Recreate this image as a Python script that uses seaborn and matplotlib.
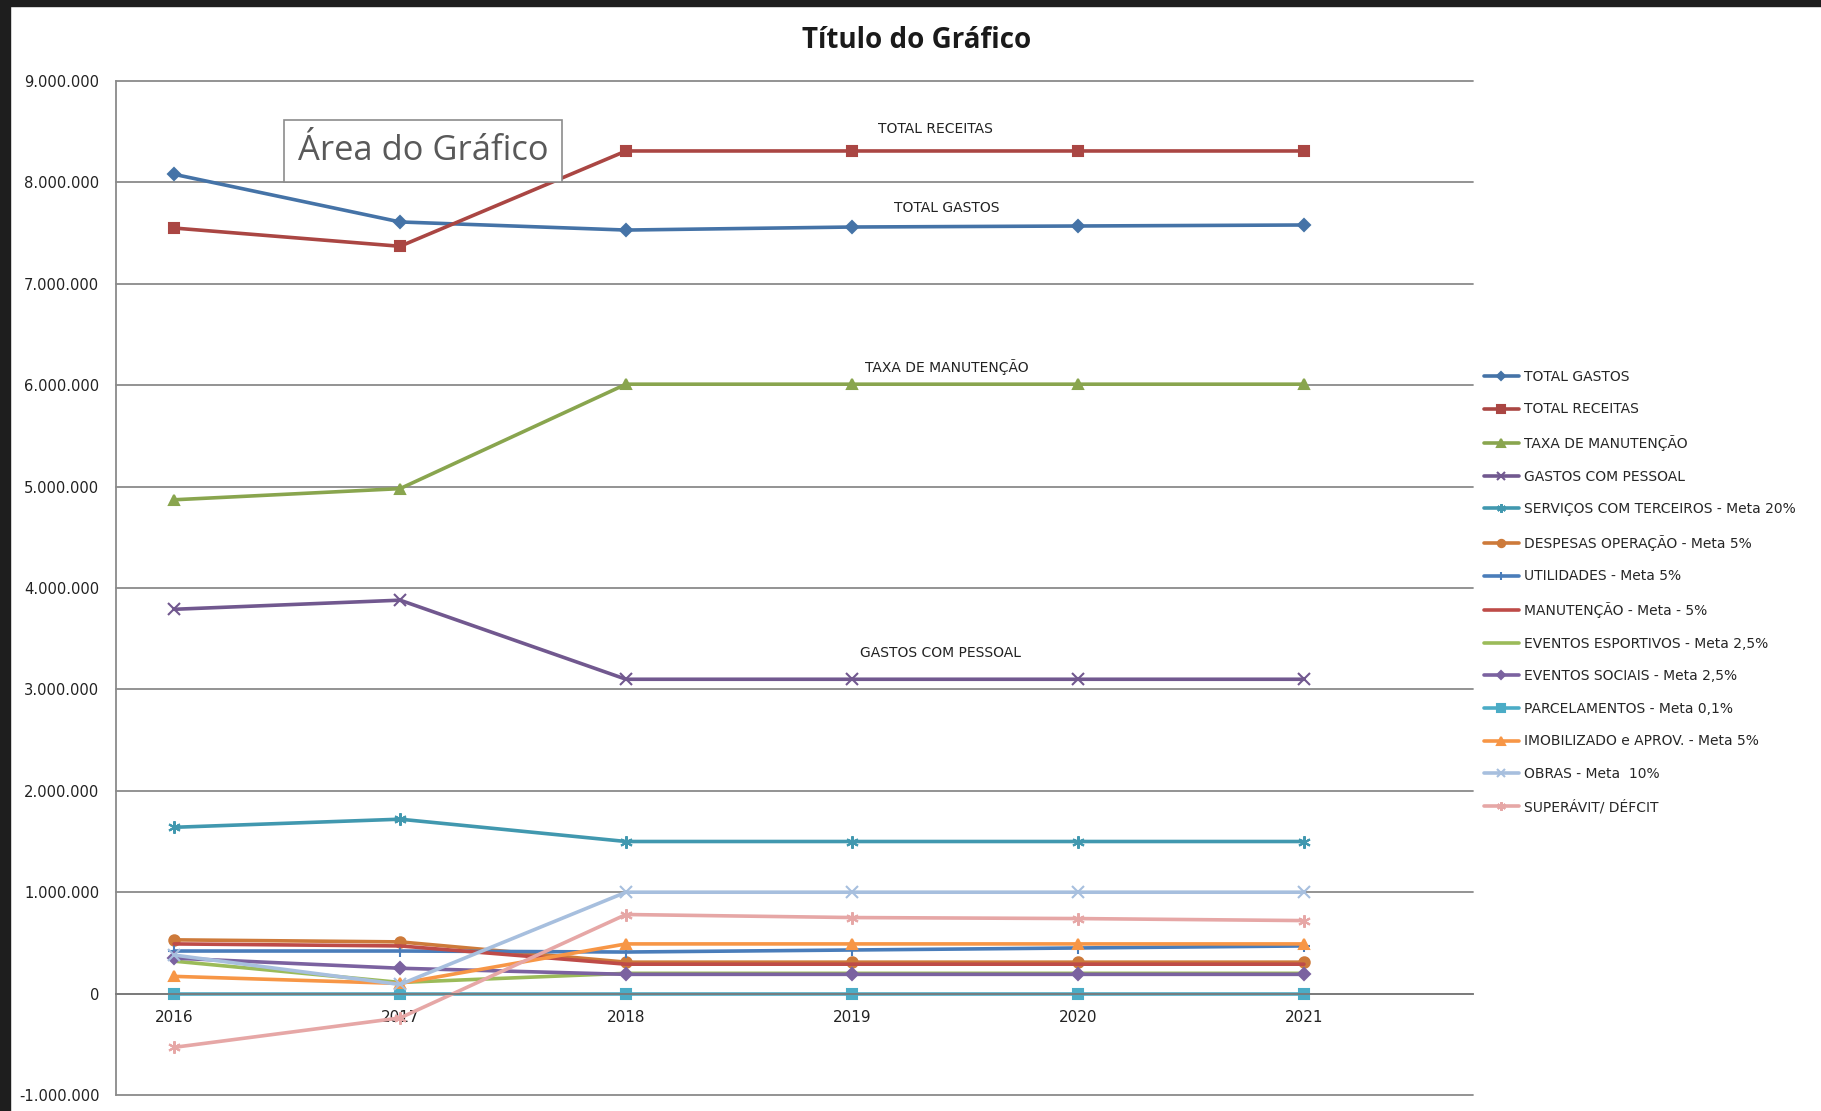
import numpy as np
import matplotlib
matplotlib.use('Agg')
import matplotlib.pyplot as plt
from matplotlib.ticker import FuncFormatter, MultipleLocator
from matplotlib.patches import Rectangle
import seaborn as sns

# dados
anos = ['2016', '2017', '2018', '2019', '2020', '2021']

total_gastos = [8080000, 7610000, 7530000, 7560000, 7570000, 7580000]
total_receitas = [7550000, 7370000, 8310000, 8310000, 8310000, 8310000]
taxa_manutencao = [4870000, 4980000, 6010000, 6010000, 6010000, 6010000]
gastos_pessoal = [3790000, 3880000, 3100000, 3100000, 3100000, 3100000]
servicos_terceiros = [1640000, 1720000, 1500000, 1500000, 1500000, 1500000]
despesas_operacao = [530000, 510000, 310000, 310000, 310000, 310000]
utilidades = [420000, 420000, 410000, 430000, 450000, 470000]
manutencao = [490000, 470000, 290000, 290000, 290000, 290000]
eventos_esportivos = [320000, 110000, 200000, 200000, 200000, 200000]
eventos_sociais = [350000, 250000, 190000, 190000, 190000, 190000]
parcelamentos = [0, 0, 0, 0, 0, 0]
imobilizado = [170000, 100000, 490000, 490000, 490000, 490000]
obras = [380000, 90000, 1000000, 1000000, 1000000, 1000000]
superavit = [-530000, -240000, 780000, 750000, 740000, 720000]

nomes = ['TOTAL GASTOS', 'TOTAL RECEITAS', 'TAXA DE MANUTENÇÃO', 'GASTOS COM PESSOAL',
         'SERVIÇOS COM TERCEIROS - Meta 20%', 'DESPESAS OPERAÇÃO - Meta 5%',
         'UTILIDADES - Meta 5%', 'MANUTENÇÃO - Meta - 5%', 'EVENTOS ESPORTIVOS - Meta 2,5%',
         'EVENTOS SOCIAIS - Meta 2,5%', 'PARCELAMENTOS - Meta 0,1%',
         'IMOBILIZADO e APROV. - Meta 5%', 'OBRAS - Meta  10%', 'SUPERÁVIT/ DÉFCIT']
series = [total_gastos, total_receitas, taxa_manutencao, gastos_pessoal, servicos_terceiros,
          despesas_operacao, utilidades, manutencao, eventos_esportivos, eventos_sociais,
          parcelamentos, imobilizado, obras, superavit]

cores = ['#4573A7', '#AA4643', '#89A54E', '#71588F', '#4198AF', '#CD7A3A', '#4A7DBA',
         '#BE4B48', '#9BBB59', '#7B62A0', '#4BACC6', '#F79646', '#A7BFDE', '#E6A7A6']
marcadores = ['D', 's', '^', 'x', (6, 2, 0), 'o', '+', None, None, 'D', 's', '^', 'x', (6, 2, 0)]
tam_marc = [6, 7.5, 7.5, 8, 9, 7.5, 9, 0, 0, 6, 7.5, 7.5, 8, 9]

# rótulos de dados sobre as linhas
rotulos = ['TOTAL RECEITAS', 'TOTAL GASTOS', 'TAXA DE MANUTENÇÃO', 'GASTOS COM PESSOAL']
rotulos_x = [3.37, 3.42, 3.42, 3.39]
rotulos_y = [8530000, 7750000, 6180000, 3360000]

sns.set_style('white')
plt.rcParams['font.family'] = ['DejaVu Sans']

W, H = 1821, 1111
fig = plt.figure(figsize=(W / 100, H / 100), dpi=100)
fig.patch.set_facecolor('white')
ax = fig.add_axes([116 / W, 1 - 1095 / H, (1473 - 116) / W, (1095 - 81) / H])

x = np.arange(len(anos))
for nome, vals, cor, m, ms in zip(nomes, series, cores, marcadores, tam_marc):
    sns.lineplot(x=x, y=vals, ax=ax, color=cor, marker=m, markersize=ms,
                 markeredgecolor=cor, markerfacecolor=cor, markeredgewidth=1.5,
                 linewidth=2.6, label=nome, clip_on=False)

if ax.get_legend() is not None:
    ax.get_legend().remove()

ax.set_xlim(-0.257, 5.748)
ax.set_ylim(-1000000, 9000000)
ax.yaxis.set_major_locator(MultipleLocator(1000000))
ax.yaxis.set_major_formatter(FuncFormatter(lambda v, p: f'{int(round(v)):,}'.replace(',', '.')))
ax.set_xticks(x)
ax.set_xticklabels(anos)
ax.set_xlabel('')
ax.set_ylabel('')

ax.grid(axis='y', color='#8a8a8a', linewidth=1.3)
ax.grid(axis='x', visible=False)
ax.set_axisbelow(True)
for gl in ax.get_ygridlines():
    gl.set_clip_on(False)

for s in ['top', 'right']:
    ax.spines[s].set_visible(False)
ax.spines['left'].set_color('#8a8a8a')
ax.spines['left'].set_linewidth(1.3)
ax.spines['bottom'].set_position(('data', 0))
ax.spines['bottom'].set_color('#7a7a7a')
ax.spines['bottom'].set_linewidth(1.3)
ax.tick_params(axis='x', length=0, pad=12, labelsize=11, colors='#222222')
ax.tick_params(axis='y', length=0, pad=12, labelsize=10.6, colors='#222222')

for t, rx, ry in zip(rotulos, rotulos_x, rotulos_y):
    ax.text(rx, ry, t, ha='center', va='center', fontsize=10, color='#222222')

fig.text(917 / W, 1 - 40 / H, 'Título do Gráfico', ha='center', va='center',
         fontsize=20, fontweight='bold', family='Open Sans', color='#1a1a1a')

fig.text(423 / W, 1 - 151 / H, 'Área do Gráfico', ha='center', va='center',
         fontsize=24.8, family='Open Sans', color='#595959',
         bbox=dict(boxstyle='square,pad=0.41', facecolor='white', edgecolor='#8c8c8c', linewidth=1.2))

fig.legend(*ax.get_legend_handles_labels(), loc='center left',
           bbox_to_anchor=(1484 / W, 1 - 592 / H), frameon=False, fontsize=10,
           handlelength=2.5, handletextpad=0.4, labelspacing=1.34, borderpad=0,
           borderaxespad=0, markerscale=0.7)

# moldura escura da captura de tela
fig.patches.append(Rectangle((0, 1 - 6 / H), 1, 6 / H, transform=fig.transFigure,
                             color='#1e1e1e', zorder=10))
fig.patches.append(Rectangle((0, 0), 10 / W, 1, transform=fig.transFigure,
                             color='#1e1e1e', zorder=10))

fig.savefig('out.png', dpi=100)
